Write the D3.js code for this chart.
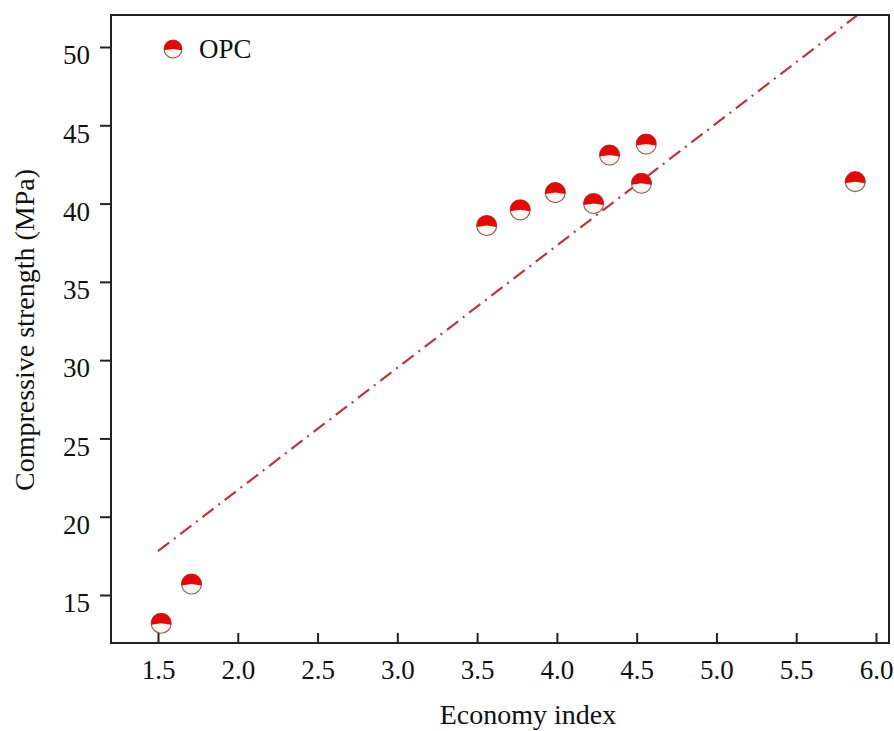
<!DOCTYPE html>
<html>
<head>
<meta charset="utf-8">
<script src="https://cdn.jsdelivr.net/npm/d3@7"></script>
<style>
  html, body { margin: 0; padding: 0; background: #fff; }
  svg { display: block; }
  text { font-family: "Liberation Serif", "Times New Roman", serif; fill: #111; }
</style>
</head>
<body>
<svg id="chart" width="894" height="731"></svg>
<script>
// Economy index vs compressive strength (OPC mixes)
const economyIndex = [1.52, 1.71, 3.56, 3.77, 3.99, 4.23, 4.33, 4.53, 4.56, 5.87];
const strength     = [13.2, 15.7, 38.6, 39.6, 40.7, 40.0, 43.1, 41.3, 43.8, 41.4];

// fitted trend line end points
const fitX = [1.5, 5.88];
const fitY = [17.8, 52.0];

const xTicks = [1.5, 2.0, 2.5, 3.0, 3.5, 4.0, 4.5, 5.0, 5.5, 6.0];
const yTicks = [15, 20, 25, 30, 35, 40, 45, 50];
const seriesName = "OPC";

const FS = 27;
const plot = { left: 111, right: 889, top: 15, bottom: 643 };

const svg = d3.select("#chart");

const x = d3.scaleLinear().domain([1.5, 6.0]).range([158, 876]);
const y = d3.scaleLinear().domain([15, 50]).range([595, 47]);

// clip region for the plot frame
svg.append("defs").append("clipPath").attr("id", "plotClip")
  .append("rect")
  .attr("x", plot.left).attr("y", plot.top)
  .attr("width", plot.right - plot.left).attr("height", plot.bottom - plot.top);

// trend line (dash-dot)
const line = d3.line().x(d => x(d[0])).y(d => y(d[1]));
svg.append("path")
  .attr("clip-path", "url(#plotClip)")
  .attr("d", line(fitX.map((v, i) => [v, fitY[i]])))
  .attr("fill", "none")
  .attr("stroke", "#c0353a")
  .attr("stroke-width", 2.2)
  .attr("stroke-dasharray", "14,6,2,6");

// half-filled circle marker
function marker(g, cx, cy, r) {
  g.append("circle")
    .attr("cx", cx).attr("cy", cy).attr("r", r)
    .attr("fill", "#fff5f0")
    .attr("stroke", "#8a5a5a")
    .attr("stroke-width", 1.1);
  const a = Math.asin(0.15);
  const arc = d3.arc()
    .innerRadius(0).outerRadius(r)
    .startAngle(-Math.PI / 2 - a).endAngle(Math.PI / 2 + a);
  g.append("path")
    .attr("transform", `translate(${cx},${cy})`)
    .attr("d", arc())
    .attr("fill", "#e00a0a");
}

const pts = svg.append("g");
economyIndex.forEach((v, i) => marker(pts, x(v), y(strength[i]), 10));

// frame
svg.append("rect")
  .attr("x", plot.left).attr("y", plot.top)
  .attr("width", plot.right - plot.left).attr("height", plot.bottom - plot.top)
  .attr("fill", "none").attr("stroke", "#222").attr("stroke-width", 2);

// x axis: ticks point inward
const xAxis = svg.append("g")
  .attr("transform", `translate(0,${plot.bottom})`)
  .call(d3.axisBottom(x).tickValues(xTicks).tickFormat(d3.format(".1f"))
    .tickSizeInner(-10).tickSizeOuter(0).tickPadding(17));
xAxis.attr("font-size", FS).attr("font-family", "Liberation Serif");
xAxis.select(".domain").remove();
xAxis.selectAll(".tick line").attr("stroke", "#222").attr("stroke-width", 2);
xAxis.selectAll("text").attr("fill", "#111");

// y axis: ticks point outward, labels sit slightly below their ticks
const yAxis = svg.append("g")
  .attr("transform", `translate(${plot.left},0)`)
  .call(d3.axisLeft(y).tickValues(yTicks).tickSizeInner(11).tickSizeOuter(0).tickPadding(10));
yAxis.attr("font-size", FS).attr("font-family", "Liberation Serif");
yAxis.select(".domain").remove();
yAxis.selectAll(".tick line").attr("stroke", "#222").attr("stroke-width", 2);
yAxis.selectAll("text").attr("fill", "#111").attr("dy", "0.62em");

// axis titles
svg.append("text")
  .attr("x", 528).attr("y", 724)
  .attr("text-anchor", "middle").attr("font-size", 28)
  .text("Economy index");

svg.append("text")
  .attr("transform", "translate(34,330) rotate(-90)")
  .attr("text-anchor", "middle").attr("font-size", 28)
  .text("Compressive strength (MPa)");

// legend
const lg = svg.append("g");
marker(lg, 173, 49, 9);
lg.append("text").attr("x", 199).attr("y", 58).attr("font-size", FS).text(seriesName);
</script>
</body>
</html>
